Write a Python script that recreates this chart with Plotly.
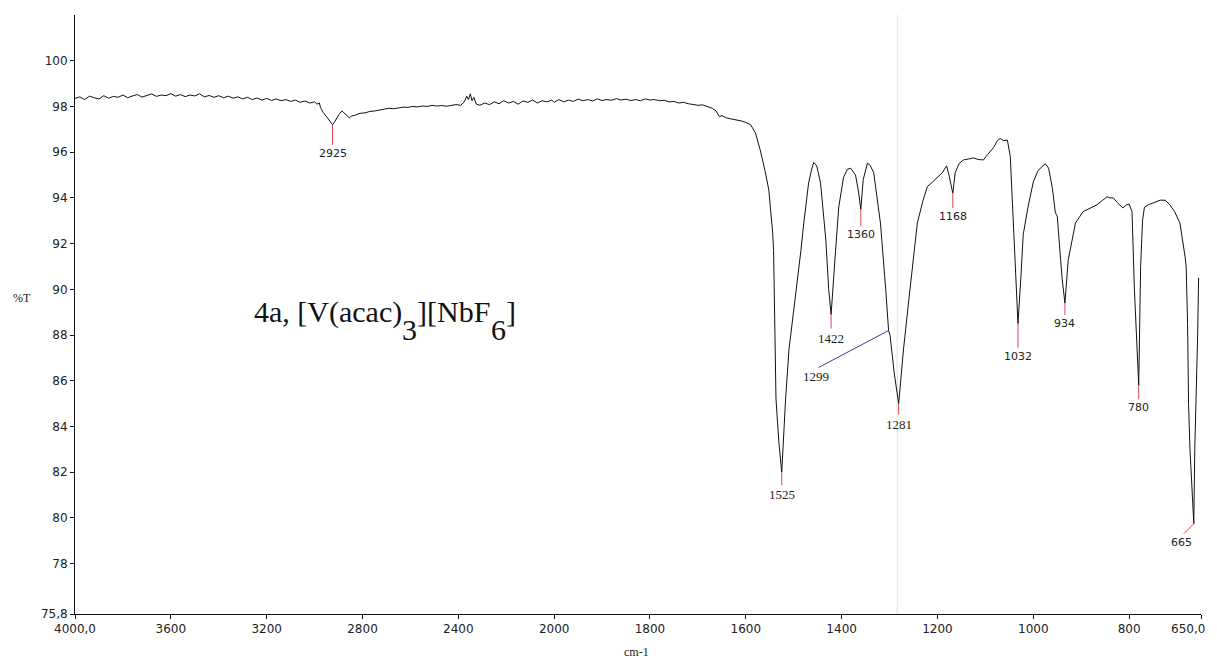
import plotly.graph_objects as go

# ---------------- data ----------------
wavenumber = [
    4000, 3980, 3960, 3940, 3920, 3900, 3880, 3860, 3840, 3820, 3800, 3780, 3760, 3740, 3720,
    3700, 3680, 3660, 3640, 3620, 3600, 3580, 3560, 3540, 3520, 3500, 3480, 3460, 3440, 3420,
    3400, 3380, 3360, 3340, 3320, 3300, 3280, 3260, 3240, 3220, 3200, 3180, 3160, 3140, 3120,
    3100, 3080, 3060, 3040, 3020, 3000, 2990, 2980, 2975, 2965, 2950, 2940, 2925, 2915, 2905,
    2895, 2885, 2875, 2865, 2855, 2845, 2830, 2810, 2790, 2770, 2750, 2730, 2710, 2690, 2670,
    2650, 2630, 2610, 2590, 2570, 2550, 2530, 2510, 2490, 2470, 2450, 2430, 2410, 2390, 2375,
    2365, 2358, 2350, 2343, 2335, 2325, 2310, 2290, 2270, 2250, 2230, 2210, 2190, 2170, 2150,
    2130, 2110, 2090, 2070, 2050, 2030, 2010, 2000, 1990, 1980, 1970, 1960, 1950, 1940, 1930,
    1920, 1910, 1900, 1890, 1880, 1870, 1860, 1850, 1840, 1830, 1820, 1810, 1800, 1790, 1780,
    1770, 1760, 1750, 1740, 1730, 1720, 1710, 1700, 1690, 1680, 1670, 1662, 1655, 1650, 1640,
    1630, 1620, 1610, 1600, 1590, 1580, 1570, 1560, 1552, 1544, 1542, 1537, 1531, 1525, 1517,
    1510, 1492, 1485, 1479, 1469, 1462, 1458, 1452, 1444, 1433, 1427, 1422, 1417, 1413, 1406,
    1396, 1388, 1381, 1371, 1365, 1360, 1355, 1346, 1340, 1333, 1319, 1308, 1302, 1299, 1290,
    1281, 1271, 1260, 1250, 1242, 1230, 1221, 1210, 1200, 1190, 1181, 1176, 1168, 1163, 1155,
    1146, 1135, 1125, 1115, 1104, 1095, 1083, 1075, 1069, 1062, 1054, 1048, 1042, 1035, 1032,
    1026, 1021, 1011, 1000, 990, 975, 968, 960, 954, 950, 940, 934, 927, 912, 896,
    880, 867, 855, 846, 840, 833, 825, 813, 805, 800, 794, 789, 780, 776, 772,
    768, 760, 745, 735, 725, 715, 705, 694, 683, 681, 678, 676, 673, 669, 666,
    665, 663, 660, 657, 655,
]
transmittance = [
    98.35, 98.42, 98.30, 98.45, 98.38, 98.33, 98.47, 98.36, 98.44, 98.40, 98.50, 98.38, 98.46, 98.52, 98.41,
    98.49, 98.55, 98.44, 98.50, 98.47, 98.56, 98.45, 98.52, 98.43, 98.50, 98.46, 98.55, 98.42, 98.48, 98.40,
    98.47, 98.38, 98.45, 98.36, 98.42, 98.33, 98.40, 98.30, 98.37, 98.28, 98.35, 98.26, 98.33, 98.25, 98.30,
    98.22, 98.28, 98.18, 98.24, 98.15, 98.20, 98.10, 98.15, 97.95, 97.75, 97.55, 97.40, 97.20, 97.35, 97.55,
    97.70, 97.80, 97.72, 97.60, 97.50, 97.58, 97.62, 97.70, 97.72, 97.78, 97.80, 97.84, 97.86, 97.92, 97.90,
    97.95, 97.97, 97.96, 98.00, 97.98, 98.02, 98.00, 98.05, 98.02, 98.04, 98.01, 98.06, 98.08, 98.05, 98.20,
    98.45, 98.30, 98.55, 98.25, 98.40, 98.10, 98.05, 98.15, 98.08, 98.20, 98.12, 98.25, 98.15, 98.22, 98.10,
    98.24, 98.18, 98.28, 98.15, 98.25, 98.20, 98.28, 98.18, 98.30, 98.20, 98.28, 98.22, 98.32, 98.25, 98.30,
    98.24, 98.33, 98.26, 98.30, 98.27, 98.34, 98.28, 98.32, 98.26, 98.30, 98.25, 98.33, 98.28, 98.30, 98.25,
    98.27, 98.20, 98.22, 98.15, 98.18, 98.12, 98.10, 98.05, 98.07, 98.00, 97.92, 97.80, 97.55, 97.60, 97.50,
    97.45, 97.42, 97.37, 97.30, 97.20, 96.85, 96.10, 95.20, 94.35, 92.50, 91.70, 85.20, 83.30, 82.00, 85.20,
    87.35, 90.40, 91.70, 92.90, 94.65, 95.30, 95.55, 95.40, 94.65, 92.16, 90.00, 88.90, 90.20, 91.60, 93.60,
    94.90, 95.25, 95.30, 95.00, 94.30, 93.50, 94.80, 95.53, 95.40, 95.10, 92.90, 90.00, 88.20, 88.00, 86.30,
    85.00, 87.35, 89.50, 91.50, 92.90, 93.90, 94.50, 94.70, 94.90, 95.10, 95.40, 95.00, 94.20, 95.10, 95.50,
    95.66, 95.70, 95.75, 95.68, 95.66, 95.90, 96.20, 96.50, 96.60, 96.50, 96.53, 95.80, 92.90, 90.00, 88.50,
    90.50, 92.40, 93.60, 94.70, 95.20, 95.50, 95.30, 94.40, 93.35, 93.20, 90.50, 89.40, 91.30, 92.90, 93.40,
    93.55, 93.70, 93.90, 94.05, 94.00, 94.00, 93.80, 93.56, 93.70, 93.73, 93.40, 90.00, 85.80, 91.00, 93.00,
    93.60, 93.70, 93.80, 93.90, 93.90, 93.70, 93.40, 92.90, 91.40, 91.00, 88.50, 85.00, 83.00, 81.00, 79.90,
    79.75, 83.00, 85.20, 88.00, 90.50,
]

peak_labels = [2925, 1525, 1422, 1360, 1299, 1281, 1168, 1032, 934, 780, 665]

x_tick_values = [4000, 3600, 3200, 2800, 2400, 2000, 1800, 1600, 1400, 1200, 1000, 800, 650]
x_tick_text = ["4000,0", "3600", "3200", "2800", "2400", "2000", "1800", "1600", "1400",
               "1200", "1000", "800", "650,0"]
y_tick_values = [75.8, 78, 80, 82, 84, 86, 88, 90, 92, 94, 96, 98, 100]
y_tick_text = ["75,8", "78", "80", "82", "84", "86", "88", "90", "92", "94", "96", "98", "100"]

# compound name: (text piece, is subscript)
title_pieces = [("4a, [V(acac)", False), ("3", True), ("][NbF", False), ("6", True), ("]", False)]
cursor_wn = 1284


# split (expanded below 2000 cm-1) abscissa, as in the instrument plot
def axis_u(w):
    return (4000 - w) / 2.0 if w >= 2000 else 1000 + (2000 - w)


# ---------------- styles ----------------
SANS = "DejaVu Sans"
SERIF = "Liberation Serif"
label_style = {
    2925: dict(tail=20, font=SANS, size=11),
    1525: dict(tail=13, font=SERIF, size=13),
    1422: dict(tail=14, font=SERIF, size=13),
    1360: dict(tail=17, font=SANS, size=11),
    1281: dict(tail=11, font=SERIF, size=13),
    1168: dict(tail=15, font=SANS, size=11),
    1032: dict(tail=24, font=SANS, size=11),
    934: dict(tail=12, font=SANS, size=11),
    780: dict(tail=14, font=SANS, size=11),
}
RED = "#d9485a"
TITLE_SIZE = 30
SUB_DROP = 18
TICKFONT = dict(family=SANS, size=12, color="#222222")
# Times / Liberation Serif advance widths (em)
SERIF_W = {"4": 0.5, "a": 0.444, ",": 0.25, " ": 0.25, "[": 0.333, "]": 0.333, "V": 0.722,
           "(": 0.333, ")": 0.333, "c": 0.444, "3": 0.5, "6": 0.5, "N": 0.722, "b": 0.5,
           "F": 0.556}

lookup = dict(zip(wavenumber, transmittance))

fig = go.Figure()
fig.add_trace(go.Scatter(
    x=[axis_u(w) for w in wavenumber], y=transmittance, mode="lines",
    line=dict(color="#111111", width=1), hoverinfo="skip", showlegend=False))

shapes = []
annotations = []

# faint cursor line
shapes.append(dict(type="line", xref="x", yref="paper", x0=axis_u(cursor_wn), x1=axis_u(cursor_wn),
                   y0=0, y1=1, line=dict(color="rgba(150,230,150,0.5)", width=1), layer="below"))

for wn in peak_labels:
    t = lookup[wn]
    u = axis_u(wn)
    if wn in label_style:
        st = label_style[wn]
        shapes.append(dict(type="line", xref="x", yref="y", ysizemode="pixel", yanchor=t,
                           x0=u, x1=u, y0=0, y1=-st["tail"], line=dict(color=RED, width=1)))
        annotations.append(dict(x=u, y=t, xref="x", yref="y", text=str(wn), showarrow=False,
                                yanchor="top", xanchor="center", yshift=-st["tail"],
                                font=dict(family=st["font"], size=st["size"], color="#222222")))
    elif wn == 1299:
        ta = lookup[1302]
        ua = axis_u(1302)
        shapes.append(dict(type="line", xref="x", yref="y", xsizemode="pixel", ysizemode="pixel",
                           xanchor=ua, yanchor=ta, x0=0, y0=0, x1=-70, y1=-37,
                           line=dict(color="#3a3a9a", width=1)))
        annotations.append(dict(x=ua, y=ta, xref="x", yref="y", text=str(wn), showarrow=False,
                                xanchor="center", yanchor="middle", xshift=-73, yshift=-46,
                                font=dict(family=SERIF, size=13, color="#222222")))
    elif wn == 665:
        shapes.append(dict(type="line", xref="x", yref="y", xsizemode="pixel", ysizemode="pixel",
                           xanchor=u, yanchor=t, x0=0, y0=0, x1=-10, y1=-10,
                           line=dict(color=RED, width=1)))
        annotations.append(dict(x=u, y=t, xref="x", yref="y", text=str(wn), showarrow=False,
                                xanchor="center", yanchor="middle", xshift=-12, yshift=-19,
                                font=dict(family=SANS, size=11, color="#222222")))

# compound label, laid out piece by piece (full-size, dropped subscripts as in the source)
offset = 0.0
for piece, is_sub in title_pieces:
    annotations.append(dict(x=0.1572, y=0.505, xref="paper", yref="paper", text=piece,
                            showarrow=False, xanchor="left", yanchor="middle",
                            xshift=offset, yshift=-SUB_DROP if is_sub else 0,
                            font=dict(family=SERIF, size=TITLE_SIZE, color="#111111")))
    offset += sum(SERIF_W[c] for c in piece) * TITLE_SIZE

# last x tick label kept fully inside the right edge of the picture
shown_tick_text = x_tick_text[:-1] + [""]
annotations.append(dict(x=1, y=0, xref="paper", yref="paper", text=x_tick_text[-1],
                        showarrow=False, xanchor="right", yanchor="top", xshift=6, yshift=-6,
                        font=TICKFONT))

# axis titles
annotations.append(dict(x=-0.047, y=0.527, xref="paper", yref="paper", text="%T",
                        showarrow=False, xanchor="center", yanchor="middle",
                        font=dict(family=SERIF, size=12, color="#222222")))
annotations.append(dict(x=0.499, y=-0.064, xref="paper", yref="paper", text="cm-1",
                        showarrow=False, xanchor="center", yanchor="middle",
                        font=dict(family=SERIF, size=12, color="#222222")))

# the page body adds an 8 px offset; figure size/margins compensate for it
fig.update_layout(
    width=1209, height=653, autosize=False,
    margin=dict(l=67, r=16, t=7, b=47, autoexpand=False),
    paper_bgcolor="white", plot_bgcolor="white",
    shapes=shapes, annotations=annotations, showlegend=False,
    xaxis=dict(range=[axis_u(4000), axis_u(650)],
               tickvals=[axis_u(w) for w in x_tick_values], ticktext=shown_tick_text,
               showgrid=False, zeroline=False, showline=True, linecolor="#111111", linewidth=1,
               ticks="outside", ticklen=4, tickcolor="#111111", automargin=False,
               ticklabeloverflow="allow", tickfont=TICKFONT),
    yaxis=dict(range=[75.8, 102], tickvals=y_tick_values, ticktext=y_tick_text,
               showgrid=False, zeroline=False, showline=True, linecolor="#111111", linewidth=1,
               ticks="outside", ticklen=4, tickcolor="#111111", automargin=False,
               tickfont=TICKFONT),
)

fig.write_html("out.html")
